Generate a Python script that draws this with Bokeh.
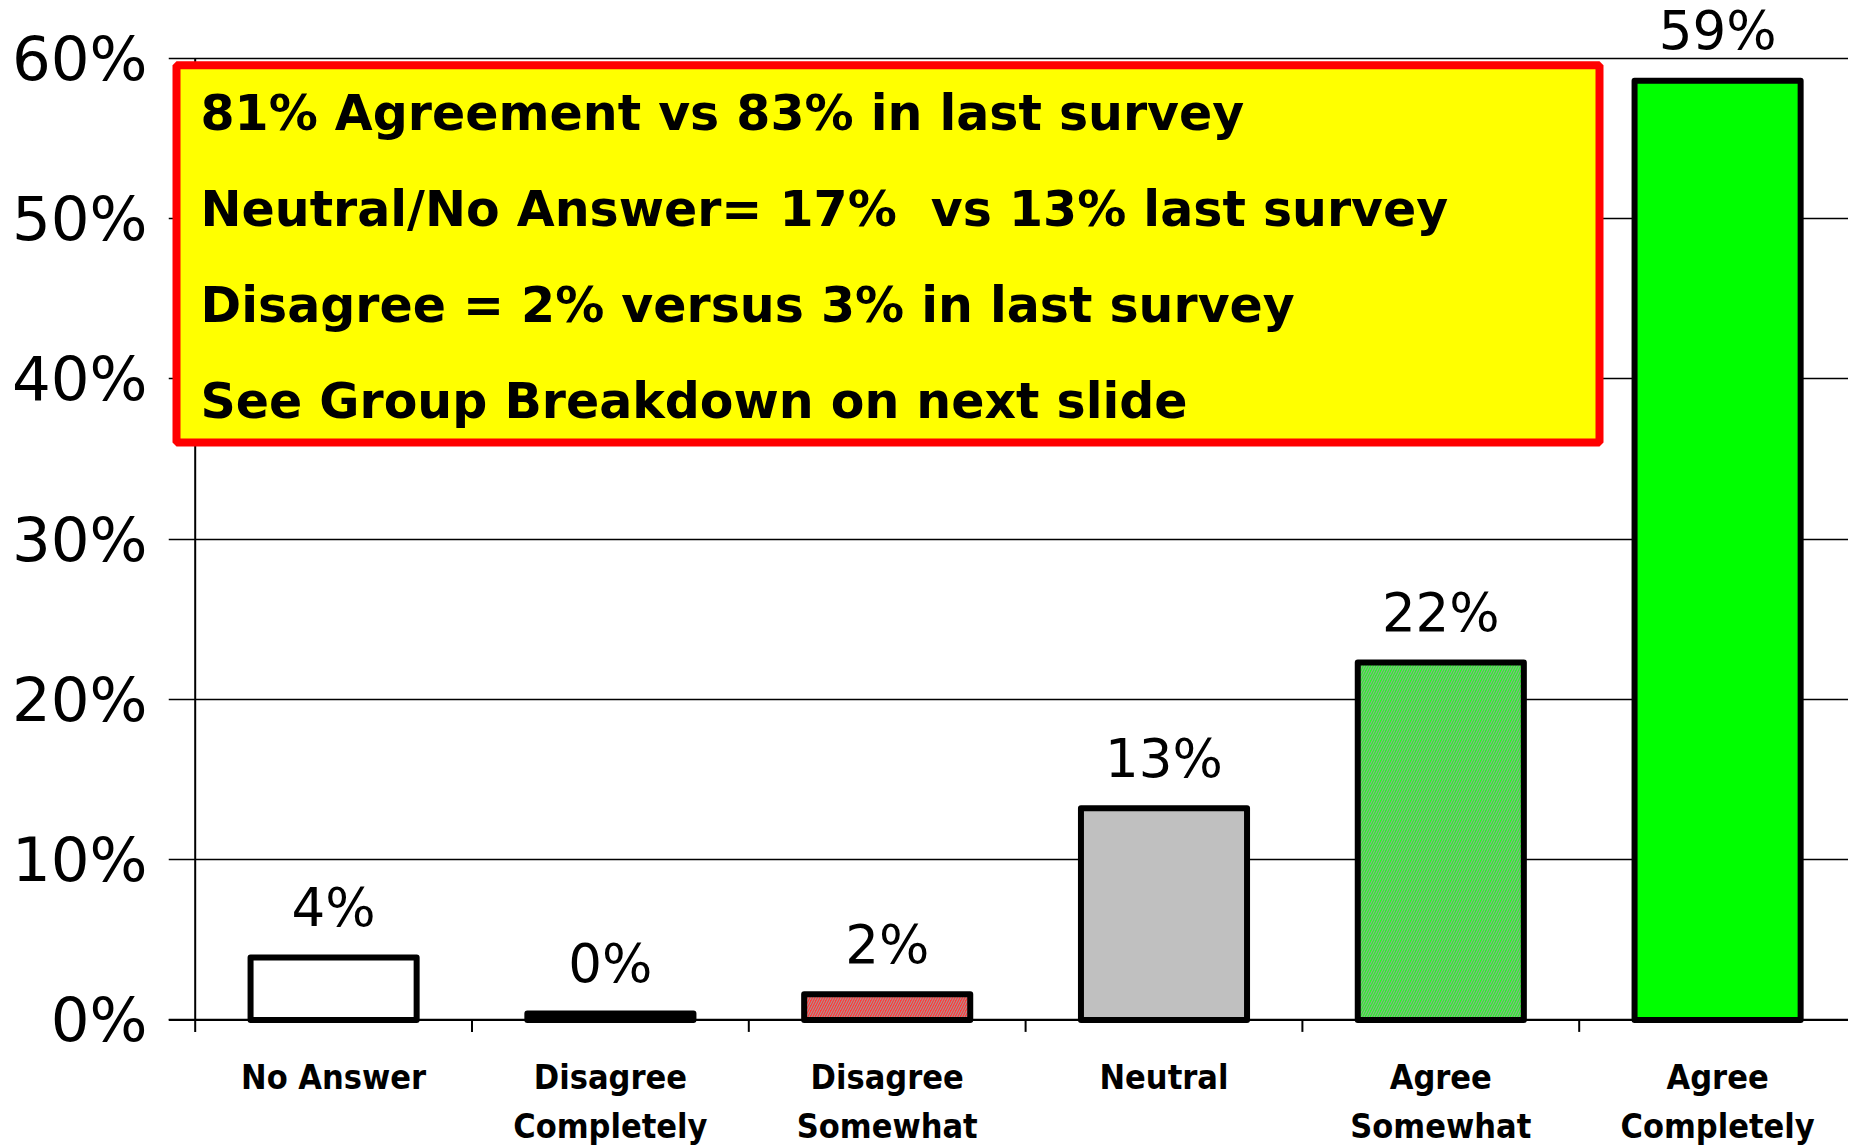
from bokeh.plotting import figure
from bokeh.models import ColumnDataSource, FixedTicker, Range1d, Span
from bokeh.core.properties import value
from bokeh.embed import file_html
from bokeh.resources import INLINE

# ---------------- data ----------------
categories = ["No Answer", "Disagree\nCompletely", "Disagree\nSomewhat",
              "Neutral", "Agree\nSomewhat", "Agree\nCompletely"]
percent = [3.9, 0.4, 1.6, 13.2, 22.3, 58.6]
bar_labels = ["4%", "0%", "2%", "13%", "22%", "59%"]
y_ticks = [0, 10, 20, 30, 40, 50, 60]
y_tick_labels = ["0%", "10%", "20%", "30%", "40%", "50%", "60%"]
fill_colors = ["#ffffff", "#000000", "#ff3a3a", "#c0c0c0", "#2cf42c", "#00ff00"]
hatches = [" ", " ", "right_diagonal_line", " ", "right_diagonal_line", " "]
notes = ["81% Agreement vs 83% in last survey",
         "Neutral/No Answer= 17%\u00a0 vs 13% last survey",
         "Disagree = 2% versus 3% in last survey",
         "See Group Breakdown on next slide"]

# ---------------- layout (page pixels) ----------------
MX, MY = 0, 0          # where the figure lands on the page
W, H = 1848, 1146
FRAME_L = 168.0        # page x of frame left
FRAME_R = MX + W
FRAME_T = MY
FRAME_B = MY + H
X0 = 194.7             # page x of category boundary 0
XU = 276.8             # px per category
Y0 = 1019.4            # page y of 0%
Y60 = 57.8             # page y of 60%
YU = (Y0 - Y60) / 60.0

def px_x(px):
    return (px - X0) / XU

def px_y(py):
    return (Y0 - py) / YU

p = figure(width=W, height=H, output_backend="svg", toolbar_location=None,
           x_range=Range1d(px_x(FRAME_L), px_x(FRAME_R)),
           y_range=Range1d(px_y(FRAME_B), px_y(FRAME_T)),
           min_border_left=int(FRAME_L - MX), min_border_right=0,
           min_border_top=0, min_border_bottom=0)
p.outline_line_color = None
p.background_fill_color = "white"
p.border_fill_color = "white"
p.xaxis.visible = False

# grid
p.xgrid.grid_line_color = None
p.ygrid.ticker = FixedTicker(ticks=y_ticks)
p.ygrid.grid_line_color = "black"
p.ygrid.grid_line_width = 1.5

# y axis (labels only; line drawn at boundary 0)
yax = p.yaxis[0]
yax.ticker = FixedTicker(ticks=y_ticks)
yax.major_label_overrides = {t: l for t, l in zip(y_ticks, y_tick_labels)}
yax.axis_line_color = None
yax.major_tick_line_color = None
yax.minor_tick_line_color = None
yax.major_tick_out = 0
yax.major_label_standoff = 21
yax.major_label_text_font = "DejaVu Sans"
yax.major_label_text_font_size = "61px"
yax.major_label_text_color = "black"

centers = [i + 0.5 for i in range(len(categories))]
bounds = list(range(len(categories) + 1))

# x baseline, y axis line and category ticks
p.add_layout(Span(location=y_ticks[0], dimension="width", line_color="black", line_width=2))
p.segment(x0=[bounds[0]], y0=[y_ticks[0]], x1=[bounds[0]], y1=[y_ticks[-1]],
          line_color="black", line_width=2)
tick_len = 12 / YU
p.segment(x0=bounds, y0=[y_ticks[0]] * len(bounds), x1=bounds,
          y1=[y_ticks[0] - tick_len] * len(bounds), line_color="black", line_width=2)

# category labels
p.text(x=centers, y=[y_ticks[0]] * len(centers), text=categories,
       text_align="center", text_baseline="top", y_offset=37,
       text_font=value("DejaVu Sans Condensed"), text_font_style="bold",
       text_font_size="34px", text_line_height=1.24, text_color="black")

# bars
src = ColumnDataSource(dict(x=centers, top=percent, fill=fill_colors,
                            hatch=hatches, label=bar_labels))
p.vbar(x="x", top="top", bottom=0, width=0.6, source=src,
       fill_color="fill", hatch_pattern="hatch", hatch_color="#a0a0a0",
       hatch_scale=5, hatch_weight=1,
       line_color="black", line_width=6, line_join="round")

p.text(x="x", y="top", text="label", source=src, text_align="center",
       text_baseline="alphabetic", y_offset=-50,
       text_font=value("DejaVu Sans"), text_font_size="53px", text_color="black")

# annotation box
p.quad(left=[px_x(176)], right=[px_x(1599)], top=[px_y(64.7)], bottom=[px_y(442)],
       fill_color="#ffff00", line_color="#ff0000", line_width=8)
note_y = [px_y(113 + 96 * i) for i in range(len(notes))]
p.text(x=[px_x(200)] * len(notes), y=note_y, text=notes,
       text_align="left", text_baseline="middle",
       text_font=value("DejaVu Sans"), text_font_style="bold",
       text_font_size="49px", text_color="black")

open("out.html", "w").write(file_html(p, INLINE))
